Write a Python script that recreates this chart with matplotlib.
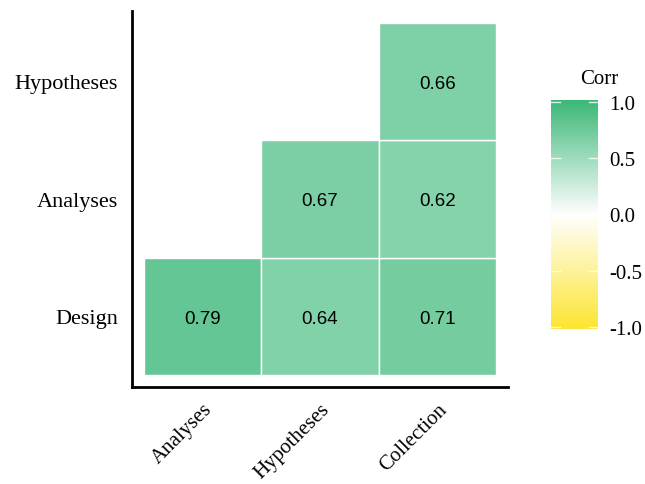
import numpy as np
import matplotlib
matplotlib.use("Agg")
import matplotlib.pyplot as plt
from matplotlib.colors import LinearSegmentedColormap, Normalize
from matplotlib.patches import Rectangle

# Lower-triangle correlation matrix (column variable x, row variable y)
x_vars = ["Analyses", "Hypotheses", "Collection"]
y_vars = ["Design", "Analyses", "Hypotheses"]
corr_cells = [
    ("Analyses", "Design", 0.79),
    ("Hypotheses", "Design", 0.64),
    ("Collection", "Design", 0.71),
    ("Hypotheses", "Analyses", 0.67),
    ("Collection", "Analyses", 0.62),
    ("Collection", "Hypotheses", 0.66),
]
legend_ticks = [-1.0, -0.5, 0.0, 0.5, 1.0]

low_col, mid_col, high_col = "#FDE531", "#FFFFFF", "#3CB878"
cmap = LinearSegmentedColormap.from_list("corr", [low_col, mid_col, high_col])
norm = Normalize(-1, 1)

serif = ["Liberation Serif", "DejaVu Serif"]
sans = ["Liberation Sans", "DejaVu Sans"]

fig = plt.figure(figsize=(6.45, 4.85), dpi=100)
ax = fig.add_axes([132 / 645, 97 / 485, 376 / 645, 376 / 485])

for xv, yv, val in corr_cells:
    xi = x_vars.index(xv) + 1
    yi = y_vars.index(yv) + 1
    ax.add_patch(Rectangle((xi - 0.5, yi - 0.5), 1, 1, facecolor=cmap(norm(val)),
                           edgecolor="white", linewidth=1.0))
    ax.text(xi, yi - 0.015, f"{val:.2f}", ha="center", va="center", fontsize=13.5,
            family=sans, color="black")

ax.set_xlim(0.4, 3.6)
ax.set_ylim(0.4, 3.6)
ax.set_xticks([1, 2, 3])
ax.set_yticks([1, 2, 3])
ax.set_xticklabels(x_vars, rotation=45, ha="right", rotation_mode="anchor",
                   family=serif, fontsize=15)
ax.set_yticklabels(y_vars, family=serif, fontsize=16)
ax.tick_params(axis="y", length=0, pad=10)
ax.tick_params(axis="x", length=0, pad=9)
for s in ["top", "right"]:
    ax.spines[s].set_visible(False)
for s in ["left", "bottom"]:
    ax.spines[s].set_linewidth(2.0)
    ax.spines[s].set_color("black")

# Colour legend
cax = fig.add_axes([551 / 645, 155 / 485, 47 / 645, 229 / 485])
grad = np.linspace(-1, 1, 256).reshape(-1, 1)
cax.imshow(grad, aspect="auto", cmap=cmap, norm=norm, origin="lower",
           extent=[0, 1, -1.02, 1.02])
cax.set_xlim(0, 1)
cax.set_ylim(-1.02, 1.02)
for t in legend_ticks:
    cax.plot([0, 0.2], [t, t], color="white", lw=1, alpha=0.8)
    cax.plot([0.8, 1], [t, t], color="white", lw=1, alpha=0.8)
cax.set_xticks([])
cax.yaxis.tick_right()
cax.set_yticks(legend_ticks)
cax.set_yticklabels([f"{t:.1f}" for t in legend_ticks], family=serif, fontsize=15)
cax.tick_params(length=0, pad=8)
for s in cax.spines.values():
    s.set_visible(False)
fig.text(599 / 645, 1 - 80 / 485, "Corr", ha="center", va="center",
         family=serif, fontsize=15)

fig.savefig("out.png", dpi=100)
